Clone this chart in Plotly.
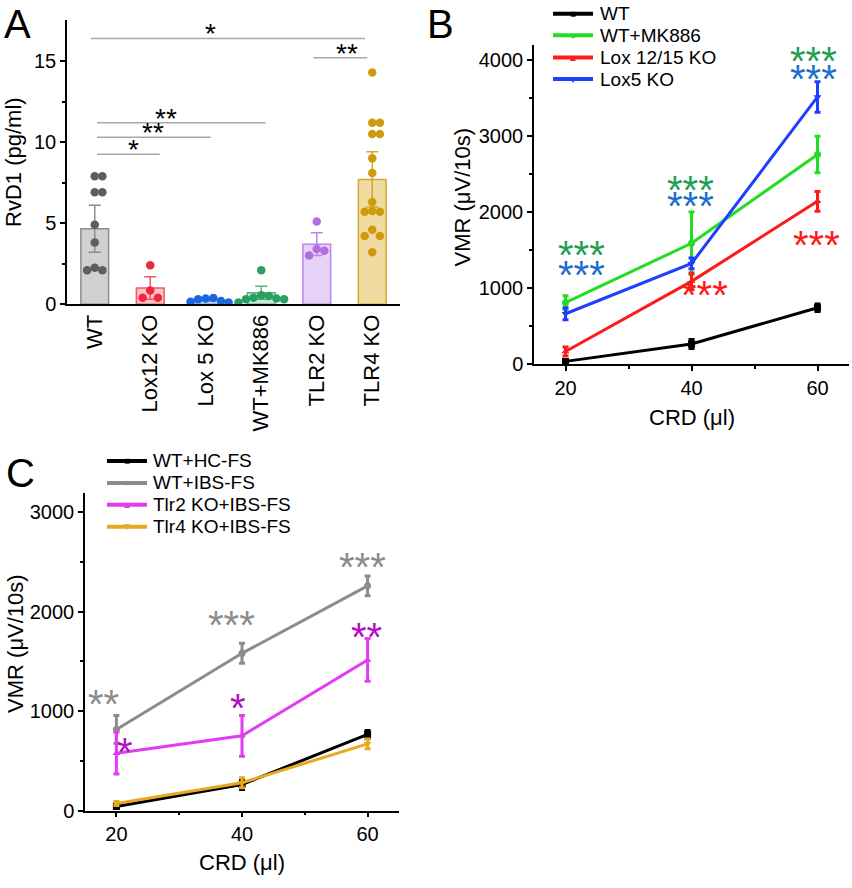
import plotly.graph_objects as go

FONT = "Liberation Sans, Arial, sans-serif"

# ---------------- panel A : RvD1 levels ----------------
groups = ["WT", "Lox12 KO", "Lox 5 KO", "WT+MK886", "TLR2 KO", "TLR4 KO"]
bar_mean = [4.65, 1.0, 0.3, 0.7, 3.7, 7.7]
bar_sem = [1.45, 0.7, 0.1, 0.4, 0.7, 1.7]
pts_wt = [7.9, 7.9, 6.9, 6.9, 4.9, 3.8, 2.25, 2.1, 2.1]
pts_lox12 = [2.4, 0.85, 0.4, 0.4]
pts_lox5 = [0.35, 0.38, 0.3, 0.2, 0.15, 0.1]
pts_mk886 = [2.1, 0.55, 0.5, 0.4, 0.35, 0.3, 0.3, 0.1]
pts_tlr2 = [5.1, 3.4, 3.3, 3.0]
pts_tlr4 = [14.3, 11.2, 11.2, 10.5, 10.5, 9.0, 8.1, 6.3, 5.75, 5.7, 5.7, 4.6, 4.2, 4.2, 3.2]
points = [pts_wt, pts_lox12, pts_lox5, pts_mk886, pts_tlr2, pts_tlr4]

dot_col = ["#5e5e5e", "#ee2a3a", "#1a66dd", "#2aa060", "#b06ee0", "#d09a10"]
fill_col = ["#d0d0d0", "#f8c6ca", "#c9d9f4", "#c8e8d4", "#e6d2f6", "#f0dca0"]
edge_col = ["#8c8c8c", "#ee5a66", "#6a98e0", "#5ab080", "#b888e4", "#d4a830"]

# ---------------- panel B : VMR, Lox KOs ----------------
crd = [20, 40, 60]
b_names = ["WT", "WT+MK886", "Lox 12/15 KO", "Lox5 KO"]
b_wt = [40, 268, 743]
b_wt_err = [25, 60, 50]
b_mk886 = [810, 1590, 2755]
b_mk886_err = [90, 410, 240]
b_lox12 = [170, 1090, 2140]
b_lox12_err = [60, 110, 130]
b_lox5 = [665, 1325, 3510]
b_lox5_err = [80, 70, 200]

# ---------------- panel C : VMR, fecal supernatants ----------------
c_names = ["WT+HC-FS", "WT+IBS-FS", "Tlr2 KO+IBS-FS", "Tlr4 KO+IBS-FS"]
c_hc = [40, 262, 765]
c_hc_err = [20, 50, 40]
c_ibs = [815, 1580, 2258]
c_ibs_err = [140, 100, 100]
c_tlr2 = [576, 751, 1513]
c_tlr2_err = [210, 205, 215]
c_tlr4 = [70, 280, 670]
c_tlr4_err = [20, 50, 50]

W, H = 852, 888


def px(x):
    return x / W


def py(y):
    return 1 - y / H


def swarm(vals, px_x, px_y, diam):
    # simple deterministic beeswarm: offsets in category units
    placed = []
    offs = []
    for v in vals:
        k = 0
        while True:
            step = (k + 1) // 2 * (1 if k % 2 else -1)
            dx = step * diam * 0.95
            ok = all((dx - p) ** 2 + ((v - pv) * px_y) ** 2 >= (diam * 0.95) ** 2
                     for p, pv in placed)
            if ok:
                break
            k += 1
        placed.append((dx, v))
        offs.append(dx / px_x)
    return offs


fig = go.Figure()

# bars + error bars + dots
for i, g in enumerate(groups):
    fig.add_trace(go.Bar(
        x=[i], y=[bar_mean[i]], width=0.5, xaxis="x", yaxis="y",
        marker=dict(color=fill_col[i], line=dict(color=edge_col[i], width=1.5)),
        error_y=dict(type="data", array=[bar_sem[i]], color=edge_col[i],
                     thickness=1.5, width=6),
        showlegend=False))
for i, vals in enumerate(points):
    offs = swarm(vals, 55.4, 16.43, 8)
    fig.add_trace(go.Scatter(
        x=[i + o for o in offs], y=vals, mode="markers", xaxis="x", yaxis="y",
        marker=dict(color=dot_col[i], size=8.5, line=dict(width=0)),
        showlegend=False))

# significance bars in A
sig_a = [(-0.07, 4.87, 16.4, "*", 2.09), (3.94, 4.91, 15.2, "**", 4.54),
         (0.04, 3.08, 11.2, "**", 1.28), (0.04, 2.09, 10.3, "**", 1.05),
         (0.04, 1.17, 9.25, "*", 0.69)]
for x0, x1, yy, txt, xt in sig_a:
    fig.add_shape(type="line", x0=x0, x1=x1, y0=yy, y1=yy, xref="x", yref="y",
                  line=dict(color="#a8a8a8", width=1.5))
    fig.add_annotation(x=xt, y=yy, xref="x", yref="y", text=txt, showarrow=False,
                       yanchor="bottom", yshift=-13, font=dict(size=28, color="black", family=FONT))

# panel B lines
b_sets = [(b_wt, b_wt_err, "black", "square"),
          (b_mk886, b_mk886_err, "#22dd22", "circle"),
          (b_lox12, b_lox12_err, "#ff1a1a", "triangle-up"),
          (b_lox5, b_lox5_err, "#1f3fff", "triangle-down")]
for name, (ys, es, col, sym) in zip(b_names, b_sets):
    fig.add_trace(go.Scatter(
        x=crd, y=ys, mode="lines+markers", name=name, xaxis="x2", yaxis="y2",
        line=dict(color=col, width=3), marker=dict(symbol=sym, size=7, color=col),
        error_y=dict(type="data", array=es, color=col, thickness=3, width=3),
        showlegend=False))

# panel C lines
c_sets = [(c_hc, c_hc_err, "black", "square"),
          (c_ibs, c_ibs_err, "#8c8c8c", "circle"),
          (c_tlr2, c_tlr2_err, "#e23cf2", "triangle-up"),
          (c_tlr4, c_tlr4_err, "#e8a820", "triangle-down")]
for name, (ys, es, col, sym) in zip(c_names, c_sets):
    fig.add_trace(go.Scatter(
        x=crd, y=ys, mode="lines+markers", name=name, xaxis="x3", yaxis="y3",
        line=dict(color=col, width=3), marker=dict(symbol=sym, size=7, color=col),
        error_y=dict(type="data", array=es, color=col, thickness=3, width=3),
        showlegend=False))

# legends drawn by hand (longer line samples, tighter rows than plotly's legend)
glyph = {"square": "■", "circle": "●", "triangle-up": "▲", "triangle-down": "▼"}


def hand_legend(names, sets, x0, x1, xt, rows):
    for name, (ys, es, col, sym), ry in zip(names, sets, rows):
        fig.add_shape(type="line", xref="paper", yref="paper", x0=px(x0), x1=px(x1),
                      y0=py(ry), y1=py(ry), line=dict(color=col, width=4))
        fig.add_annotation(x=px((x0 + x1) / 2), y=py(ry), xref="paper", yref="paper",
                           text=glyph[sym], showarrow=False, xanchor="center", yanchor="middle",
                           font=dict(size=10, color=col, family=FONT))
        fig.add_annotation(x=px(xt), y=py(ry), xref="paper", yref="paper", text=name,
                           showarrow=False, xanchor="left", yanchor="middle",
                           font=dict(size=19, color="black", family=FONT))


hand_legend(b_names, b_sets, 553, 593, 598, [14, 35.7, 58.3, 80])
hand_legend(c_names, c_sets, 107, 147, 151, [466.7, 489, 511, 533.3])

# significance stars B and C
g_star, bl_star, r_star = "#1fa050", "#1f6fc8", "#ff1a1a"
gr_star, m_star = "#8c8c8c", "#b010c0"
stars = [("x2", "y2", 22.5, 1556, "***", g_star), ("x2", "y2", 22.5, 1297, "***", bl_star),
         ("x2", "y2", 39.8, 2412, "***", g_star), ("x2", "y2", 39.8, 2192, "***", bl_star),
         ("x2", "y2", 59.3, 4099, "***", g_star), ("x2", "y2", 59.3, 3865, "***", bl_star),
         ("x2", "y2", 59.9, 1690, "***", r_star), ("x2", "y2", 42.1, 1025, "***", r_star),
         ("x3", "y3", 18.0, 1166, "**", gr_star), ("x3", "y3", 38.3, 1953, "***", gr_star),
         ("x3", "y3", 59.2, 2539, "***", gr_star), ("x3", "y3", 21.4, 682, "*", m_star),
         ("x3", "y3", 39.3, 1119, "*", m_star), ("x3", "y3", 59.8, 1834, "**", m_star)]
for xr, yr, xx, yy, txt, col in stars:
    fig.add_annotation(x=xx, y=yy, xref=xr, yref=yr, text=txt, showarrow=False,
                       yanchor="middle", yshift=-9, font=dict(size=40, color=col, family=FONT))

# panel letters (boxes kept inside the page)
for txt, lx, ly in [("A", 17, 0), ("B", 440, 0), ("C", 20, 455)]:
    fig.add_annotation(x=px(lx), y=py(ly), xref="paper", yref="paper", text=txt,
                       showarrow=False, xanchor="center", yanchor="top",
                       font=dict(size=40, color="black", family=FONT))

# axis titles
titles = [("RvD1 (pg/ml)", 14, 164, -90), ("VMR (μV/10s)", 463, 200, -90),
          ("CRD (μl)", 692, 423, 0), ("VMR (μV/10s)", 16, 652, -90),
          ("CRD (μl)", 242, 873, 0)]
for txt, tx, ty, ang in titles:
    fig.add_annotation(x=px(tx), y=py(ty), xref="paper", yref="paper", text=txt,
                       showarrow=False, textangle=ang, xanchor="center", yanchor="middle",
                       font=dict(size=22, color="black", family=FONT))

axis_common = dict(showline=True, linecolor="black", linewidth=1.5, showgrid=False,
                   zeroline=False, ticks="outside", ticklen=5, tickwidth=1.5,
                   tickcolor="black", tickfont=dict(size=20, color="black", family=FONT))
minor_common = dict(ticks="outside", ticklen=3, tickcolor="black", tickwidth=1.5)

fig.update_layout(
    width=W, height=H, margin=dict(l=0, r=0, t=0, b=0),
    paper_bgcolor="white", plot_bgcolor="white", barmode="overlay",
    font=dict(family=FONT, color="black"), showlegend=False,
    xaxis=dict(domain=[px(67), px(400)], range=[-0.5, 5.5], tickvals=list(range(6)),
               ticktext=groups, tickangle=-90, showline=True, linecolor="black",
               linewidth=1.5, showgrid=False, zeroline=False, ticks="",
               tickfont=dict(size=22, color="black", family=FONT), anchor="y"),
    yaxis=dict(domain=[py(308), py(20)], range=[0, 17.55], tickvals=[0, 5, 10, 15],
               minor=dict(tickvals=[2.5, 7.5, 12.5], **minor_common),
               anchor="x", **axis_common),
    xaxis2=dict(domain=[px(534), px(849)], range=[15, 65], tickvals=[20, 40, 60],
                minor=dict(tickvals=[30, 50], **minor_common),
                anchor="y2", **axis_common),
    yaxis2=dict(domain=[py(369), py(45.7)], range=[0, 4190],
                tickvals=[0, 1000, 2000, 3000, 4000],
                minor=dict(tickvals=[500, 1500, 2500, 3500], **minor_common),
                anchor="x2", **axis_common),
    xaxis3=dict(domain=[px(85), px(399)], range=[15, 65], tickvals=[20, 40, 60],
                minor=dict(tickvals=[30, 50], **minor_common),
                anchor="y3", **axis_common),
    yaxis3=dict(domain=[py(820.7), py(499.3)], range=[0, 3190],
                tickvals=[0, 1000, 2000, 3000],
                minor=dict(tickvals=[500, 1500, 2500], **minor_common),
                anchor="x3", **axis_common),
)

# drop the browser's default 8px body margin so the figure sits at the page corner
fig.write_html("out.html", config={"displayModeBar": False},
               post_script="document.body.style.margin='0';")
